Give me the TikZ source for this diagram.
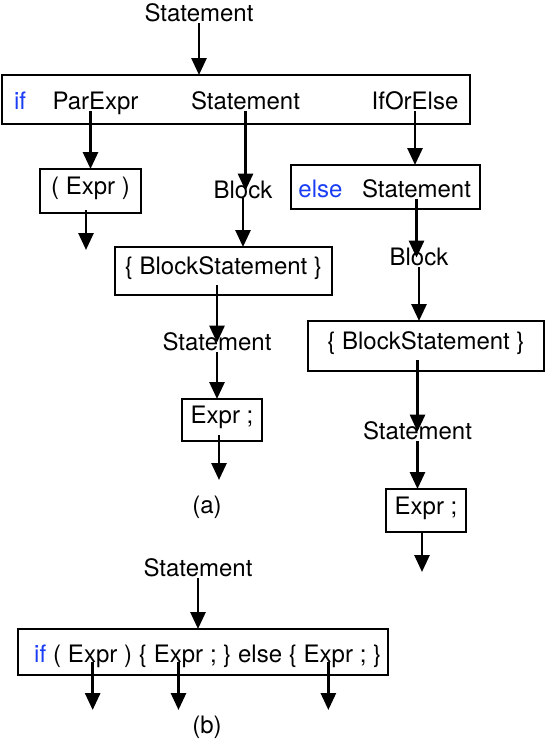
\documentclass[tikz,border=0pt]{standalone}
\usepackage{fontspec}
\setmainfont{TeX Gyre Heros}
\usetikzlibrary{arrows.meta,positioning}
\definecolor{kwblue}{RGB}{25,60,245}
\tikzset{
  arr/.style={line width=2.8pt, -{Triangle[length=17pt,width=15pt]}},
  box/.style={draw, line width=1.3pt, inner sep=0pt, outer sep=0pt, text height=0.72em, text depth=0pt},
  lbl/.style={inner sep=0pt, text height=0.72em, text depth=0.22em},
}
\begin{document}
\begin{tikzpicture}[x=1pt,y=-1pt,font=\fontsize{24}{28}\selectfont]
\useasboundingbox (0,0) rectangle (546,742);

% (a) tree
\node[lbl,anchor=base] (st0) at (199,21) {Statement};
\node[box,minimum width=468pt,minimum height=49pt] (ifbox) at (236,99.5) {};
\node[lbl,anchor=base,text=kwblue] (kwif) at (20,109) {if};
\node[lbl,anchor=base] (pe) at (95.5,109) {ParExpr};
\node[lbl,anchor=base] (st1) at (245.5,109) {Statement};
\node[lbl,anchor=base] (ioe) at (415,109) {IfOrElse};

\node[box,minimum width=101pt,minimum height=44pt] (exA) at (90.5,191) {( Expr )};
\coordinate (endA) at (86,250);

\node[lbl,anchor=base] (blkA) at (243,198) {Block};
\node[box,minimum width=217pt,minimum height=48pt] (bsA) at (223.5,271) {\{ BlockStatement \}};
\node[lbl,anchor=base] (st2) at (217,350) {Statement};
\node[box,minimum width=80pt,minimum height=42pt] (exB) at (222,420) {Expr ;};
\coordinate (endB) at (219,480);

\node[box,minimum width=189pt,minimum height=44pt] (elsebox) at (385.5,187) {};
\node[lbl,anchor=base,text=kwblue] (kwelse) at (320.5,197) {else};
\node[lbl,anchor=base] (st3) at (416.5,197) {Statement};
\node[lbl,anchor=base] (blkB) at (419,265) {Block};
\node[box,minimum width=236pt,minimum height=50pt] (bsB) at (426,346) {\{ BlockStatement \}};
\node[lbl,anchor=base] (st4) at (417.5,439) {Statement};
\node[box,minimum width=80pt,minimum height=43pt] (exC) at (426,510.5) {Expr ;};
\coordinate (endC) at (422,572);

\node[lbl,anchor=base] (capA) at (207,513) {(a)};

\draw[arr] (st0.south) -- (st0.south |- ifbox.north);
\draw[arr] (pe.south -| exA.north) -- (exA.north);
\draw[arr] (st1.south) -- (st1.south |- blkA.north);
\draw[arr] (blkA.base) -- (blkA.base |- bsA.north);
\draw[arr] (ioe.south) -- (ioe.south |- elsebox.north);
\draw[arr] (exA.center -| endA) ++(0,19) -- (endA);
\draw[arr] (bsA.center -| st2) ++(0,14) -- (st2.north);
\draw[arr] (st2.south) -- (st2.south |- exB.north);
\draw[arr] (exB.center -| endB) ++(0,15) -- (endB);
\draw[arr] (st3.south) -- (st3.south |- blkB.north);
\draw[arr] (blkB.south) -- (blkB.south |- bsB.north);
\draw[arr] (bsB.center -| st4) ++(0,14) -- (st4.north);
\draw[arr] (st4.south) -- (st4.south |- exC.north);
\draw[arr] (exC.south -| endC) -- (endC);

% (b) flattened
\node[lbl,anchor=base] (st5) at (198,576) {Statement};
\node[box,minimum width=370pt,minimum height=46pt] (ifbox2) at (203,652) {};
\node[lbl,anchor=base west,text=kwblue] (b1) at (34,662) {if};
\node[lbl,base right=6.5pt of b1] (b2) {(};
\node[lbl,base right=6.5pt of b2] (ex1) {Expr};
\node[lbl,base right=6.5pt of ex1] (b3) {) \{};
\node[lbl,base right=6.5pt of b3] (ex2) {Expr};
\node[lbl,base right=6.5pt of ex2] (b4) {; \} else \{};
\node[lbl,base right=6.5pt of b4] (ex3) {Expr};
\node[lbl,base right=6.5pt of ex3] (b5) {; \}};
\coordinate[below=48pt of ex1.base] (endD1);
\coordinate[below=48pt of ex2.base] (endD2);
\coordinate[below=48pt of ex3.base] (endD3);

\node[lbl,anchor=base] (capB) at (207,733) {(b)};

\draw[arr] (st5.south) -- (st5.south |- ifbox2.north);
\draw[arr] (ex1.base) -- (endD1);
\draw[arr] (ex2.base) -- (endD2);
\draw[arr] (ex3.base) -- (endD3);
\end{tikzpicture}
\end{document}
